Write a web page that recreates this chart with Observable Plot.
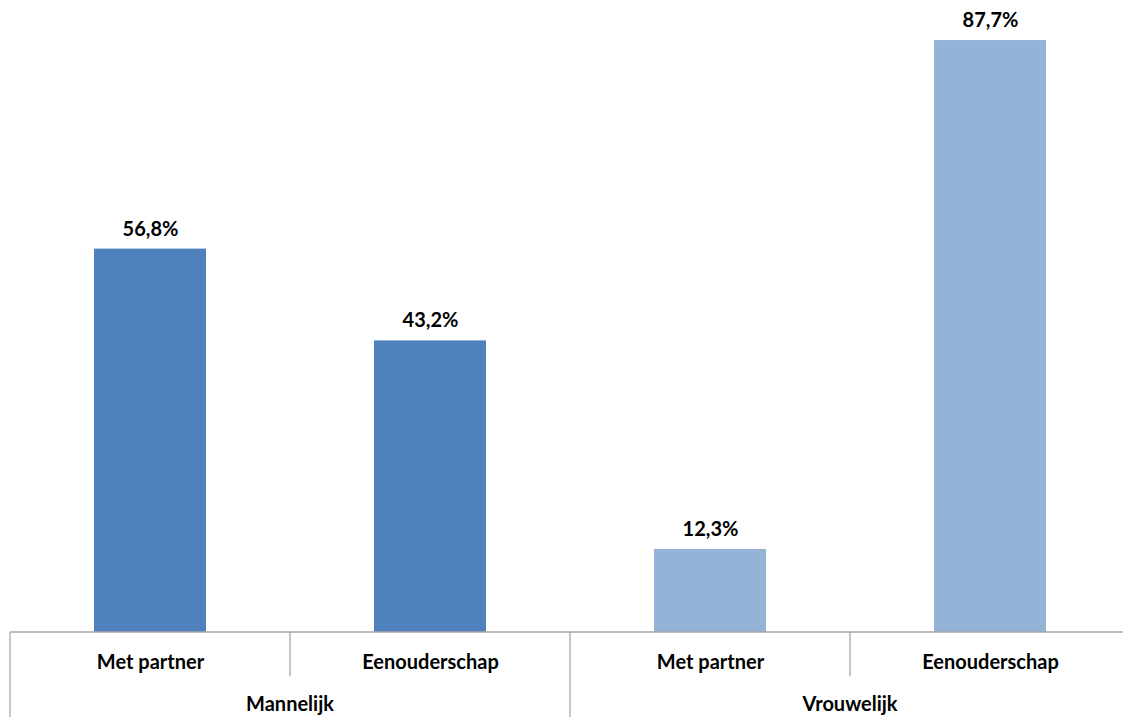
<!DOCTYPE html>
<html>
<head>
<meta charset="utf-8">
<script src="https://cdn.jsdelivr.net/npm/d3@7"></script>
<script src="https://cdn.jsdelivr.net/npm/@observablehq/plot@0.6"></script>
<style>
  html, body { margin: 0; padding: 0; background: #fff; }
  #chart svg { display: block; }
</style>
</head>
<body>
<div id="chart"></div>
<script>
const genders = ["Mannelijk", "Mannelijk", "Vrouwelijk", "Vrouwelijk"];
const types = ["Met partner", "Eenouderschap", "Met partner", "Eenouderschap"];
const values = [56.8, 43.2, 12.3, 87.7];
const groupNames = ["Mannelijk", "Vrouwelijk"];
const colors = {"Mannelijk": "#4F81BD", "Vrouwelijk": "#95B3D7"};

const data = values.map((v, i) => ({
  key: genders[i] + "|" + types[i],
  gender: genders[i],
  type: types[i],
  value: v,
  label: v.toFixed(1).replace(".", ",") + "%"
}));

const FONT = "Lato, 'Open Sans', sans-serif";
const FS = 20;
const axisColor = "#A6A6A6";

const chart = Plot.plot({
  width: 1123,
  height: 717,
  margin: 0,
  style: {fontFamily: FONT, background: "#fff"},
  x: {type: "band", domain: data.map(d => d.key), range: [10, 1130], paddingInner: 0.6, paddingOuter: 0.3, axis: null},
  y: {domain: [0, 100], range: [632, 632 - 675], axis: null},
  color: {domain: groupNames, range: groupNames.map(g => colors[g])},
  marks: [
    Plot.barY(data, {x: "key", y: "value", fill: "gender"}),
    Plot.text(data, {x: "key", y: "value", text: "label", dy: -20, fontSize: FS, fontWeight: "bold", fill: "#000"}),
    Plot.text(data, {x: "key", y: 0, text: "type", dy: 30, fontSize: FS, fontWeight: "bold", fill: "#000"})
  ]
});

document.getElementById("chart").appendChild(chart);

// Derive axis line, tick separators and group labels from the scales
const sx = chart.scale("x");
const sy = chart.scale("y");
const step = sx.step;
const half = (step - sx.bandwidth) / 2;
const y0 = sy.apply(0);
const svg = d3.select(chart);
const g = svg.append("g");

g.append("line")
  .attr("x1", sx.range[0]).attr("x2", sx.range[1])
  .attr("y1", y0).attr("y2", y0)
  .attr("stroke", axisColor).attr("stroke-width", 1.3);

data.forEach((d, i) => {
  const left = sx.apply(d.key) - half;
  const isGroupStart = i === 0 || data[i - 1].gender !== d.gender;
  g.append("line")
    .attr("x1", left).attr("x2", left)
    .attr("y1", y0).attr("y2", isGroupStart ? y0 + 90 : y0 + 44)
    .attr("stroke", axisColor).attr("stroke-width", 1.3);
});

groupNames.forEach(name => {
  const keys = data.filter(d => d.gender === name).map(d => sx.apply(d.key));
  const cx = (d3.min(keys) + d3.max(keys) + sx.bandwidth) / 2;
  g.append("text")
    .attr("x", cx).attr("y", y0 + 73)
    .attr("text-anchor", "middle").attr("dy", "0.32em")
    .attr("font-family", FONT).attr("font-size", FS).attr("font-weight", "bold")
    .attr("fill", "#000")
    .text(name);
});
</script>
</body>
</html>
